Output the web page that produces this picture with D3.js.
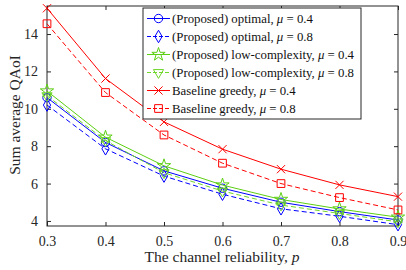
<!DOCTYPE html>
<html>
<head>
<meta charset="utf-8">
<script src="https://cdn.jsdelivr.net/npm/d3@7"></script>
<style>
  body { margin: 0; background: #fff; }
  svg { display: block; font-family: "Liberation Serif", "DejaVu Serif", serif; }
</style>
</head>
<body>
<div id="chart"></div>
<script>
'use strict';
// channel reliability p
var pValues = [0.3, 0.4, 0.5, 0.6, 0.7, 0.8, 0.9];
var optimal04 = [10.6, 8.2, 6.68, 5.75, 5.0, 4.5, 4.05];
var optimal08 = [10.2, 7.86, 6.4, 5.43, 4.65, 4.25, 3.8];
var lowComp04 = [10.95, 8.48, 6.95, 5.92, 5.15, 4.64, 4.2];
var lowComp08 = [10.7, 8.3, 6.58, 5.6, 4.85, 4.4, 3.95];
var greedy04 = [15.38, 11.62, 9.3, 7.84, 6.77, 5.93, 5.3];
var greedy08 = [14.55, 10.87, 8.6, 7.09, 6.0, 5.25, 4.59];
var xTicks = [0.3, 0.4, 0.5, 0.6, 0.7, 0.8, 0.9];
var yTicks = [4, 6, 8, 10, 12, 14];
var legendNames = ['(Proposed) optimal, ', '(Proposed) optimal, ', '(Proposed) low-complexity, ',
    '(Proposed) low-complexity, ', 'Baseline greedy, ', 'Baseline greedy, '];
var legendMu = ['0.4', '0.8', '0.4', '0.8', '0.4', '0.8'];

var series = [
    {values: optimal04, color: '#0000ff', dash: null, marker: 'circle'},
    {values: optimal08, color: '#0000ff', dash: '5,3', marker: 'diamond'},
    {values: lowComp04, color: '#5ccf12', dash: null, marker: 'star'},
    {values: lowComp08, color: '#6fd62a', dash: '5,3', marker: 'triangle'},
    {values: greedy04, color: '#ff0000', dash: null, marker: 'cross'},
    {values: greedy08, color: '#ff0000', dash: '5,3', marker: 'square'}
];

var W = 406, H = 270;
var margin = {top: 6, right: 8, bottom: 44, left: 47};
var width = W - margin.left - margin.right;
var height = H - margin.top - margin.bottom;
var axisColor = '#262626';

var svg = d3.select('#chart').append('svg')
    .attr('width', W)
    .attr('height', H);

var g = svg.append('g')
    .attr('transform', 'translate(' + margin.left + ',' + margin.top + ')');

var xScale = d3.scaleLinear().domain([0.3, 0.9]).range([0, width]);
var yScale = d3.scaleLinear().domain([3.73, 15.5]).range([height, 0]);

// axes, matlab style: ticks inside on all four sides
var tl = 4;
g.append('g')
    .attr('transform', 'translate(0,' + height + ')')
    .call(d3.axisBottom(xScale).tickValues(xTicks).tickSize(-tl).tickPadding(10).tickFormat(d3.format('.1f')))
    .call(function(a) {
        a.select('.domain').remove();
        a.selectAll('line').attr('stroke', axisColor);
        a.selectAll('text').attr('font-size', 14).attr('fill', axisColor).attr('font-family', 'Liberation Serif');
    });
g.append('g')
    .call(d3.axisTop(xScale).tickValues(xTicks).tickSize(-tl).tickFormat(''))
    .call(function(a) {
        a.select('.domain').remove();
        a.selectAll('line').attr('stroke', axisColor);
    });
g.append('g')
    .call(d3.axisLeft(yScale).tickValues(yTicks).tickSize(-tl).tickPadding(9))
    .call(function(a) {
        a.select('.domain').remove();
        a.selectAll('line').attr('stroke', axisColor);
        a.selectAll('text').attr('font-size', 14).attr('fill', axisColor).attr('font-family', 'Liberation Serif');
    });
g.append('g')
    .attr('transform', 'translate(' + width + ',0)')
    .call(d3.axisRight(yScale).tickValues(yTicks).tickSize(-tl).tickFormat(''))
    .call(function(a) {
        a.select('.domain').remove();
        a.selectAll('line').attr('stroke', axisColor);
    });

g.append('rect')
    .attr('width', width)
    .attr('height', height)
    .attr('fill', 'none')
    .attr('stroke', axisColor)
    .attr('stroke-width', 1);

// axis titles
svg.append('text')
    .attr('x', 222)
    .attr('y', 262)
    .attr('text-anchor', 'middle')
    .attr('font-size', 15.5)
    .attr('fill', axisColor)
    .text('The channel reliability, ')
    .append('tspan')
    .attr('font-style', 'italic')
    .text('p');

svg.append('text')
    .attr('transform', 'translate(20,115) rotate(-90)')
    .attr('text-anchor', 'middle')
    .attr('font-size', 15.5)
    .attr('fill', axisColor)
    .text('Sum average QAoI');

function markerPath(type) {
    var sym = {
        circle: d3.symbolCircle,
        diamond: d3.symbolDiamond,
        star: d3.symbolStar,
        triangle: d3.symbolTriangle,
        cross: d3.symbolTimes,
        square: d3.symbolSquare
    }[type];
    var size = {circle: 55, diamond: 45, star: 55, triangle: 45, cross: 45, square: 60}[type];
    return d3.symbol().type(sym).size(size)();
}

var line = d3.line()
    .x(function(d, i) { return xScale(pValues[i]); })
    .y(function(d) { return yScale(d); });

var plot = g.append('g');
series.forEach(function(s) {
    plot.append('path')
        .datum(s.values)
        .attr('d', line)
        .attr('fill', 'none')
        .attr('stroke', s.color)
        .attr('stroke-width', 1)
        .attr('stroke-dasharray', s.dash);
    plot.selectAll(null)
        .data(s.values)
        .enter()
        .append('path')
        .attr('d', markerPath(s.marker))
        .attr('transform', function(d, i) {
            var rot = s.marker === 'triangle' ? ' rotate(180)' : '';
            return 'translate(' + xScale(pValues[i]) + ',' + yScale(d) + ')' + rot;
        })
        .attr('fill', 'none')
        .attr('stroke', s.color)
        .attr('stroke-width', 1);
});

// legend
var lg = svg.append('g').attr('transform', 'translate(143,8)');
lg.append('rect')
    .attr('width', 218)
    .attr('height', 111)
    .attr('fill', '#fff')
    .attr('stroke', axisColor)
    .attr('stroke-width', 1);

series.forEach(function(s, i) {
    var y = 10.5 + i * 18;
    var row = lg.append('g').attr('transform', 'translate(0,' + y + ')');
    row.append('line')
        .attr('x1', 4).attr('x2', 27)
        .attr('stroke', s.color)
        .attr('stroke-width', 1)
        .attr('stroke-dasharray', s.dash ? '4,2' : null);
    row.append('path')
        .attr('d', markerPath(s.marker))
        .attr('transform', 'translate(15.5,0)' + (s.marker === 'triangle' ? ' rotate(180)' : ''))
        .attr('fill', 'none')
        .attr('stroke', s.color);
    var t = row.append('text')
        .attr('x', 29)
        .attr('y', 4.5)
        .attr('font-size', 12.8)
        .attr('fill', '#111');
    t.append('tspan').text(legendNames[i]);
    t.append('tspan').attr('font-style', 'italic').text('\u03bc');
    t.append('tspan').text(' = ' + legendMu[i]);
});
</script>
</body>
</html>
